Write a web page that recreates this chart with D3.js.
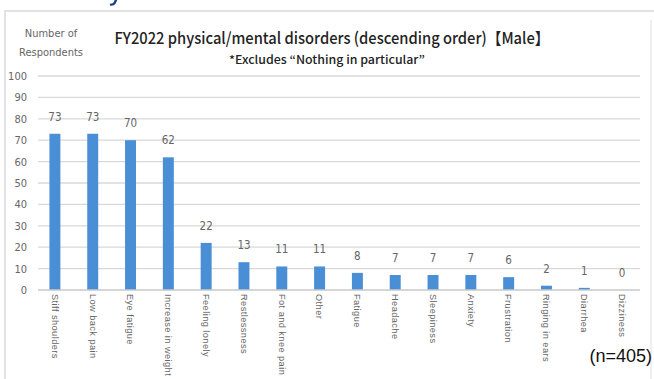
<!DOCTYPE html>
<html>
<head>
<meta charset="utf-8">
<script src="https://cdn.jsdelivr.net/npm/d3@7"></script>
<style>
  html, body { margin: 0; padding: 0; background: #fff; }
  svg { display: block; }
</style>
</head>
<body>
<svg id="chart" width="654" height="379"></svg>
<script>
const categories = [
  "Stiff shoulders", "Low back pain", "Eye fatigue", "Increase in weight",
  "Feeling lonely", "Restlessness", "Fot and knee pain", "Other",
  "Fatigue", "Headache", "Sleepiness", "Anxiety",
  "Frustration", "Ringing in ears", "Diarrhea", "Dizziness"
];
const respondents = [73, 73, 70, 62, 22, 13, 11, 11, 8, 7, 7, 7, 6, 2, 1, 0];
const yTicks = [0, 10, 20, 30, 40, 50, 60, 70, 80, 90, 100];

const svg = d3.select("#chart");
const W = 654, H = 379;
const plot = { left: 36, right: 641, top: 76, bottom: 290 };
const narrow = "Liberation Sans Narrow, DejaVu Sans Condensed, Arial, sans-serif";

// tail of the page heading glyph above the frame
svg.append("path")
  .attr("d", "M116,0 L114.5,3.2 Q113.5,4.8 111,4.6")
  .attr("fill", "none").attr("stroke", "#1f3f8f").attr("stroke-width", 2.4)
  .attr("stroke-linecap", "round");

// chart frame
svg.append("path")
  .attr("d", `M5,${H} V11 H${W}`)
  .attr("fill", "none").attr("stroke", "#e2e2e2").attr("stroke-width", 2);
svg.append("line")
  .attr("x1", 651).attr("x2", 651).attr("y1", 20).attr("y2", H)
  .attr("stroke", "#f0f0f0").attr("stroke-width", 2);

const x = d3.scaleBand().domain(categories).range([plot.left, plot.right]).paddingInner(0.71).paddingOuter(0.355);
const y = d3.scaleLinear().domain([0, 100]).range([plot.bottom, plot.top]);

// gridlines
svg.append("g")
  .selectAll("line").data(yTicks.filter(d => d > 0)).join("line")
  .attr("x1", 38).attr("x2", 640)
  .attr("y1", d => y(d)).attr("y2", d => y(d))
  .attr("stroke", "#d9d9d9").attr("stroke-width", 1.3);

// y-axis labels
const yAxis = d3.axisLeft(y).tickValues(yTicks).tickSize(0).tickPadding(0);
const gy = svg.append("g").attr("transform", "translate(27,0)").call(yAxis);
gy.select(".domain").remove();
gy.selectAll("text")
  .attr("font-family", narrow)
  .attr("font-size", 11).attr("fill", "#666");

// bars
svg.append("g")
  .selectAll("rect").data(respondents).join("rect")
  .attr("x", (d, i) => x(categories[i]))
  .attr("width", x.bandwidth())
  .attr("y", d => y(d))
  .attr("height", d => y(0) - y(d))
  .attr("fill", "#4a8fd6");

// baseline axis
svg.append("line")
  .attr("x1", 38).attr("x2", 640)
  .attr("y1", y(0)).attr("y2", y(0))
  .attr("stroke", "#c8c8c8").attr("stroke-width", 1.3);

// value labels
svg.append("g")
  .selectAll("text").data(respondents).join("text")
  .attr("x", (d, i) => x(categories[i]) + x.bandwidth() / 2)
  .attr("y", d => y(d) - 13)
  .attr("text-anchor", "middle")
  .attr("font-family", narrow)
  .attr("font-size", 11.5).attr("fill", "#666")
  .text(d => d);

// rotated category labels
svg.append("g")
  .selectAll("text").data(categories).join("text")
  .attr("transform", d => `translate(${x(d) + x.bandwidth() / 2 - 3.2},294) rotate(90)`)
  .attr("font-family", "Arial, Liberation Sans, sans-serif")
  .attr("font-size", 9.2).attr("letter-spacing", 0.45).attr("fill", "#666")
  .text(d => d);

// titles
svg.append("text")
  .attr("x", 332).attr("y", 44)
  .attr("text-anchor", "middle")
  .attr("font-family", "Noto Sans CJK JP, sans-serif")
  .attr("font-size", 16).attr("font-weight", 500).attr("fill", "#222")
  .attr("textLength", 435).attr("lengthAdjust", "spacingAndGlyphs")
  .text("FY2022 physical/mental disorders (descending order)【Male】");
svg.append("text")
  .attr("x", 327).attr("y", 64)
  .attr("text-anchor", "middle")
  .attr("font-family", "Noto Sans CJK JP, sans-serif")
  .attr("font-size", 11.5).attr("font-weight", 500).attr("fill", "#222")
  .attr("textLength", 196).attr("lengthAdjust", "spacingAndGlyphs")
  .text("*Excludes “Nothing in particular”");

// y-axis caption
svg.append("text")
  .attr("x", 51).attr("y", 37).attr("text-anchor", "middle")
  .attr("font-family", narrow)
  .attr("font-size", 11).attr("fill", "#666")
  .text("Number of");
svg.append("text")
  .attr("x", 51).attr("y", 56).attr("text-anchor", "middle")
  .attr("font-family", narrow)
  .attr("font-size", 11).attr("fill", "#666")
  .text("Respondents");

// sample size
svg.append("text")
  .attr("x", 652).attr("y", 362).attr("text-anchor", "end")
  .attr("font-family", "Arial, Liberation Sans, sans-serif")
  .attr("font-size", 18).attr("fill", "#111")
  .text("(n=405)");
</script>
</body>
</html>
